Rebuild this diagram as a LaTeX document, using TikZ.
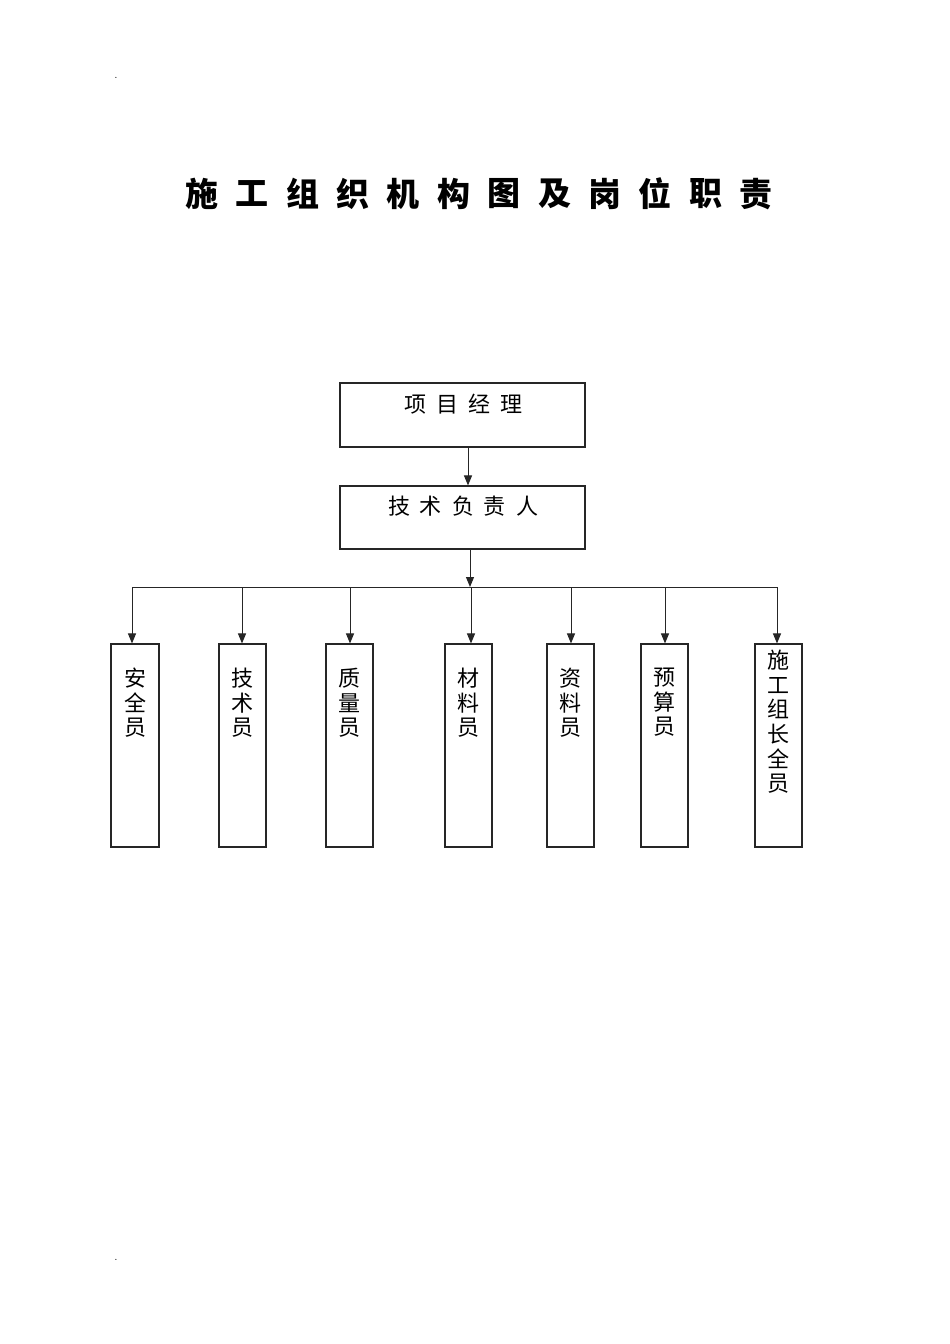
\documentclass[tikz,border=0pt]{standalone}
\usepackage{fontspec}
\newfontfamily\cjk{Noto Sans CJK SC}
\usetikzlibrary{arrows.meta}
\tikzset{
  box/.style={draw=black!85, line width=1.1pt, inner sep=0pt},
  conn/.style={draw=black!85, line width=1pt},
  arr/.style={conn, -{Triangle[length=10pt,width=8pt]}},
  ttl/.style={font=\cjk\bfseries\fontsize{33}{33}\selectfont, inner sep=0pt},
  lbl/.style={font=\cjk\fontsize{22}{24}\selectfont, inner sep=0pt},
  vlbl/.style={font=\cjk\fontsize{22}{24.6}\selectfont, inner sep=0pt, align=center, anchor=north},
  dot/.style={font=\fontsize{12}{12}\selectfont, inner sep=0pt}
}
\begin{document}
\begin{tikzpicture}[x=1pt,y=-1pt]
\useasboundingbox (0,0) rectangle (950,1344);
\fill[white] (0,0) rectangle (950,1344);
% page marks
\node[dot] (d1) at (116,78) {.};
\node[dot] (d2) at (116,1260) {.};
% title
\foreach \c [count=\i from 0] in {施,工,组,织,机,构,图,及,岗,位,职,责}{
  \node[ttl] (t\i) at ({202+50.36*\i},194) {\c};
}
% top boxes
\node[box, minimum width=245pt, minimum height=64pt] (pm) at (462.5,415) {};
\node[lbl] (pmt) at (463.5,404) {项\hspace{10pt}目\hspace{10pt}经\hspace{10pt}理};
\node[box, minimum width=245pt, minimum height=63pt] (tl) at (462.5,517.5) {};
\node[lbl] (tlt) at (463,506) {技\hspace{10pt}术\hspace{10pt}负\hspace{10pt}责\hspace{10pt}人};
\draw[arr] ([xshift=5.5pt]pm.south) -- ([xshift=5.5pt]tl.north);
% bar
\coordinate (bl) at (132,587);
\coordinate (br) at (777,587);
\coordinate (bm) at (470,587);
\draw[conn] (bl) -- (br);
\draw[arr] (tl.south -| bm) -- (bm);
% bottom boxes
\foreach \n/\xl/\xr/\xa/\txt/\ty in {
  b1/111/159/132/{安\\全\\员}/668,
  b2/219/266/242/{技\\术\\员}/668,
  b3/326/373/350/{质\\量\\员}/668,
  b4/445/492/471/{材\\料\\员}/668,
  b5/547/594/571/{资\\料\\员}/668,
  b6/641/688/665/{预\\算\\员}/668,
  b7/755/802/777/{施\\工\\组\\长\\全\\员}/650}{
  \node[box, minimum width={\xr-\xl}, minimum height=203pt] (\n) at ({(\xl+\xr)/2},745.5) {};
  \node[vlbl] (\n t) at ({(\xl+\xr)/2},\ty) {\txt};
  \coordinate (\n a) at (\xa,587);
  \draw[arr] (\n a) -- (\n.north -| \n a);
}
\end{tikzpicture}
\end{document}
